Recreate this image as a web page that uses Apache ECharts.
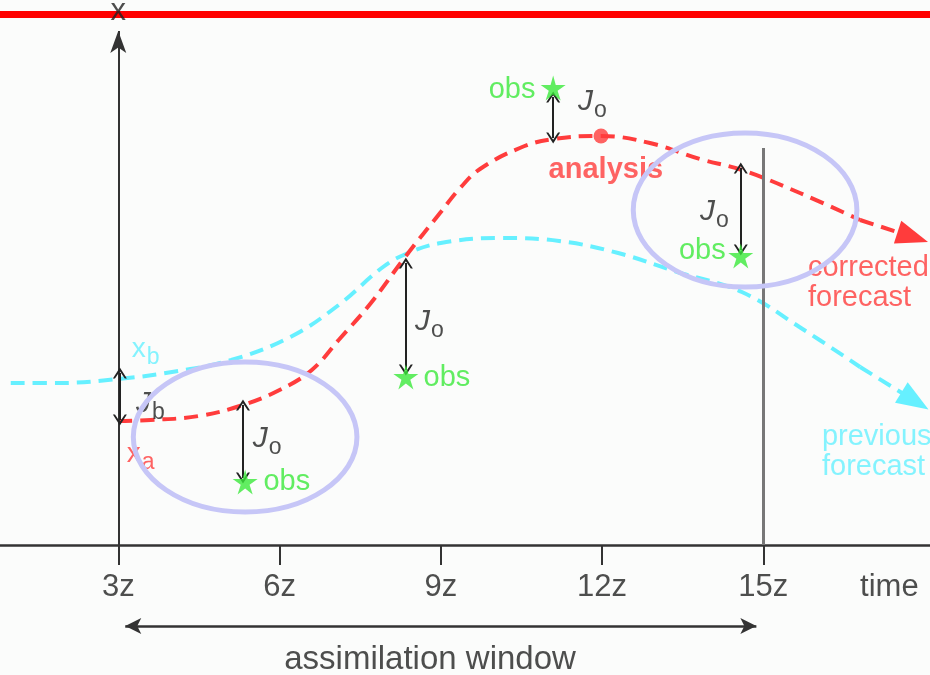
<!DOCTYPE html>
<html>
<head>
<meta charset="utf-8">
<script src="https://cdn.jsdelivr.net/npm/echarts@6/dist/echarts.min.js"></script>
<style>
  html, body { margin: 0; padding: 0; background: #fbfcfb; }
  #chart { width: 930px; height: 675px; }
</style>
</head>
<body>
<div id="chart"></div>
<script>
// time in hours (3z .. 15z), state value in arbitrary units (0 = time axis)
const hourTicks = [3, 6, 9, 12, 15]

// previous forecast x_b (last point = arrow end)
const bgCurve = [[1.0, 162], [1.9, 162], [3.0, 166], [4.0, 173], [5.1, 185], [6.2, 208],
  [7.1, 240], [7.9, 277], [8.35, 291], [9.0, 302], [10.1, 307], [11.2, 304], [12.3, 292],
  [13.4, 273], [14.6, 253], [15.7, 217], [16.8, 178], [17.82, 144]]

// analysis / corrected forecast x_a (last point = arrow end)
const anCurve = [[3.0, 124], [3.6, 125], [4.5, 129], [5.32, 140], [6.0, 155], [6.6, 175],
  [7.1, 205], [7.7, 242], [8.35, 289], [9.0, 333], [9.36, 357], [9.73, 376], [10.47, 397],
  [11.09, 406], [11.98, 409], [12.89, 402], [13.82, 386], [14.6, 375], [15.68, 352],
  [16.8, 325], [17.78, 308]]

const analysisPoint = [11.98, 409]

const obsX = [5.36, 8.35, 11.09, 14.58]
const obsY = [63, 168, 457, 289]

// J_b / J_o distance arrows: x, upper end, lower end
const costX = [3.03, 5.32, 8.35, 11.09, 14.58]
const costTop = [172, 140, 282, 448, 377]
const costBottom = [125, 67, 175, 407, 295]

const windowStart = 3
const windowEnd = 15

// highlighted regions: centre x, centre y, half width (h), half height
const ellipses = [[5.36, 108, 2.08, 75], [14.66, 335, 2.08, 77]]

// annotations: x, y, text, style
const notes = [
  [3.0, 534, 'x', 'axisC'],
  [3.25, 196, '{m|x}{s|b}', 'bg'],
  [3.16, 91, '{m|x}{s|a}', 'an'],
  [3.33, 141, '{j|J}{s|b}', 'j'],
  [5.5, 106, '{j|J}{s|o}', 'j'],
  [8.52, 223, '{j|J}{s|o}', 'j'],
  [11.55, 443, '{j|J}{s|o}', 'j'],
  [13.82, 333, '{j|J}{s|o}', 'j'],
  [5.7, 63, 'obs', 'obs'],
  [8.68, 167, 'obs', 'obs'],
  [10.76, 455, 'obs', 'obsR'],
  [14.3, 294, 'obs', 'obsR'],
  [12.07, 375, 'analysis', 'analysis'],
  [15.83, 262, 'corrected\nforecast', 'an'],
  [16.09, 93, 'previous\nforecast', 'bg'],
  [16.8, -42, 'time', 'axis'],
  [8.8, -115, 'assimilation window', 'window'],
]
const tickLabelY = -42

const RED = '#ff3c3c'
const CYAN = '#66f0ff'
const GREEN = '#3be83b'
const INK = '#222'
const FONT = 'Liberation Sans'

const subRich = {
  m: {fontSize: 28, fontFamily: FONT},
  j: {fontSize: 30, fontStyle: 'italic', fontFamily: FONT, color: INK},
  s: {fontSize: 23, fontFamily: FONT, padding: [18, 0, 0, 1]},
}

const labelStyles = {
  axis: {color: INK, fontSize: 31, align: 'left'},
  axisC: {color: INK, fontSize: 31, align: 'center'},
  window: {color: INK, fontSize: 33, align: 'center'},
  bg: {color: CYAN, fontSize: 29, align: 'left', lineHeight: 30},
  an: {color: RED, fontSize: 29, align: 'left', lineHeight: 30},
  j: {color: INK, fontSize: 28, align: 'left'},
  obs: {color: GREEN, fontSize: 29, align: 'left'},
  obsR: {color: GREEN, fontSize: 29, align: 'right'},
  analysis: {color: RED, fontSize: 29, fontWeight: 'bold', align: 'center'},
}

const STAR = 'path://M50,0L60,36L98,36L67,58L79,95L50,72L21,95L33,58L2,36L40,36Z'
const CHEVRON = 'path://M0,10L6,0L12,10L10.2,10L6,3.4L1.8,10Z'

function dashedArrow(curve, color) {
  const n = curve.length
  const style = {color: color, width: 4, type: [14, 8]}
  return {
    silent: true,
    animation: false,
    label: {show: false},
    symbol: ['none', 'none'],
    data: [[
      {coord: curve[n - 2], lineStyle: style},
      {coord: curve[n - 1], symbol: 'triangle', symbolSize: [24, 32], lineStyle: style}
    ]]
  }
}

function curveSeries(curve, color, z) {
  return {
    type: 'line',
    data: curve.slice(0, -1),
    smooth: 0.4,
    showSymbol: false,
    silent: true,
    z: z,
    lineStyle: {color: color, width: 4, type: [14, 8]},
    markLine: dashedArrow(curve, color)
  }
}

const guideLines = []
// state axis with arrow at 3z
guideLines.push([
  {coord: [3, 0], lineStyle: {color: '#333', width: 2, type: 'solid'}},
  {coord: [3, 514], symbol: 'arrow', symbolSize: [12, 22]}
])
// end of window at 15z
guideLines.push([
  {coord: [15, 0], lineStyle: {color: '#777', width: 3, type: 'solid'}},
  {coord: [15, 397]}
])
costX.forEach((x, i) => {
  guideLines.push([
    {coord: [x, costTop[i]], symbol: CHEVRON, symbolSize: [14, 11], lineStyle: {color: INK, width: 2, type: 'solid'}},
    {coord: [x, costBottom[i]], symbol: CHEVRON, symbolSize: [14, 11]}
  ])
})
// assimilation window
guideLines.push([
  {coord: [windowStart + 0.13, -81], symbol: 'arrow', symbolSize: [12, 16], lineStyle: {color: '#333', width: 2.5, type: 'solid'}},
  {coord: [windowEnd - 0.13, -81], symbol: 'arrow', symbolSize: [12, 16]}
])

function textItem(x, y, text, style) {
  return {
    value: [x, y],
    label: Object.assign({
      show: true,
      position: 'inside',
      verticalAlign: 'middle',
      fontFamily: FONT,
      formatter: text,
      rich: subRich
    }, labelStyles[style])
  }
}

const noteData = notes.map(n => textItem(n[0], n[1], n[2], n[3]))
  .concat(hourTicks.map(h => textItem(h, tickLabelY, h + 'z', 'axisC')))

const chart = echarts.init(document.getElementById('chart'))
chart.setOption({
  backgroundColor: '#fbfcfb',
  animation: false,
  grid: {left: 0, right: 0, top: 0, bottom: 0, containLabel: false, outerBoundsMode: 'none'},
  xAxis: {
    type: 'value',
    min: 0.8,
    max: 18.1,
    splitLine: {show: false},
    axisLine: {onZero: true, lineStyle: {color: '#333', width: 2.5}},
    axisTick: {customValues: hourTicks, length: 20, lineStyle: {color: '#333', width: 2}},
    axisLabel: {show: false}
  },
  yAxis: {type: 'value', min: -130, max: 545, show: false},
  series: [
    curveSeries(bgCurve, CYAN, 2),
    curveSeries(anCurve, RED, 3),
    {
      type: 'line',
      data: [],
      silent: true,
      z: 4,
      markLine: {
        silent: true,
        animation: false,
        label: {show: false},
        symbol: ['none', 'none'],
        data: guideLines
      }
    },
    {
      type: 'scatter',
      data: obsX.map((x, i) => [x, obsY[i]]),
      symbol: STAR,
      symbolSize: 25,
      itemStyle: {color: GREEN},
      z: 5
    },
    {
      type: 'scatter',
      data: [analysisPoint],
      symbol: 'circle',
      symbolSize: 15,
      itemStyle: {color: RED},
      z: 5
    },
    {
      type: 'scatter',
      data: noteData,
      symbolSize: 0,
      silent: true,
      clip: false,
      z: 6
    },
    {
      type: 'custom',
      data: ellipses,
      silent: true,
      clip: false,
      z: 7,
      renderItem(params, api) {
        const c = api.coord([api.value(0), api.value(1)])
        const s = api.size([api.value(2), api.value(3)])
        return {
          type: 'ellipse',
          shape: {cx: c[0], cy: c[1], rx: s[0], ry: s[1]},
          style: {fill: 'none', stroke: '#c6c6f7', lineWidth: 5}
        }
      }
    },
    {
      // red border line across the top
      type: 'line',
      data: [],
      silent: true,
      z: 8,
      markLine: {
        silent: true,
        animation: false,
        label: {show: false},
        symbol: ['none', 'none'],
        lineStyle: {color: '#ff0000', width: 7, type: 'solid'},
        data: [{yAxis: 531}]
      }
    }
  ]
})
</script>
</body>
</html>
